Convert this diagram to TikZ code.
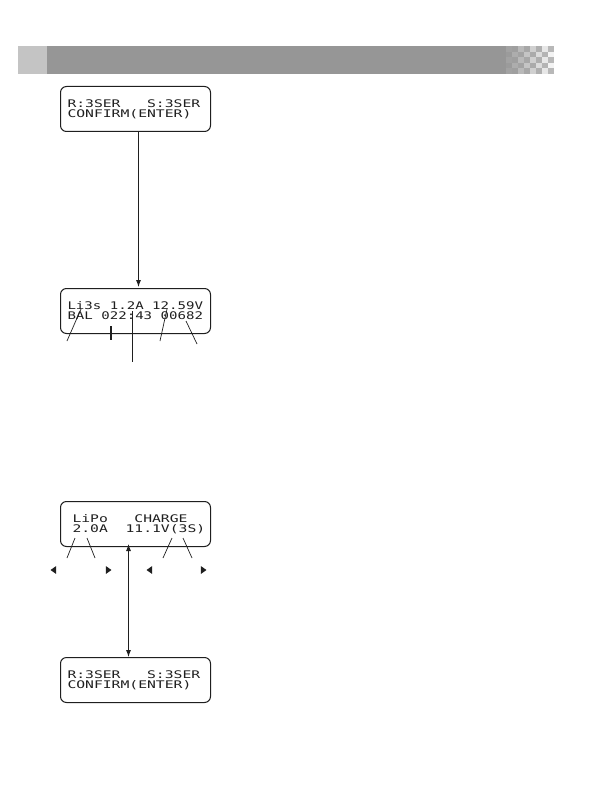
\documentclass[tikz,border=0pt]{standalone}
\usepackage{fontspec}
\usepackage{xcolor}
\usepackage{tikz}
\usetikzlibrary{shapes.geometric, arrows.meta, calc}
\newfontfamily\lcdfont[FakeStretch=1.40]{DejaVu Sans Mono}
\newfontfamily\lcdfontn[FakeStretch=1.34]{DejaVu Sans Mono}
\newcommand\lcdsp{\phantom{0}}
\definecolor{barGray}{gray}{0.59}
\definecolor{tabGray}{gray}{0.77}
\definecolor{lcdInk}{gray}{0.12}
\tikzset{
  lcdbox/.style={draw=lcdInk, line width=1pt, rounded corners=6pt, fill=white, text=lcdInk,
    font=\lcdfont\fontsize{10.5}{10}\selectfont, align=left, text width=136pt,
    inner xsep=7pt, inner ysep=0pt, minimum height=45pt, anchor=north west},
  pointer/.style={draw=lcdInk, line width=0.7pt},
  lcdarrow/.style={draw=lcdInk, line width=0.8pt},
  tri/.style={isosceles triangle, isosceles triangle apex angle=70, fill=lcdInk, draw=none,
    inner sep=0pt, minimum height=5.5pt},
}

\begin{document}
\begin{tikzpicture}[x=1pt,y=-1pt]
\useasboundingbox (0,0) rectangle (595,805);
% Header bar
\fill[tabGray] (18,46) rectangle (47,74);
\fill[barGray] (47,46) rectangle (500,74);
\foreach \i in {0,...,8}{
  \foreach \j in {0,...,4}{
    \pgfmathtruncatemacro{\odd}{mod(\i+\j,2)}
    \pgfmathtruncatemacro{\pct}{100-4*\i-7*\i*\odd}
    \fill[barGray!\pct] (500+6*\i,46+5.6*\j) rectangle ++(6,5.6);
  }
}
% LCD screens
\node[lcdbox] (scrA) at (60,86) {R:3SER\lcdsp\lcdsp\lcdsp S:3SER\\CONFIRM(ENTER)};
\node[lcdbox, font=\lcdfontn\fontsize{10.5}{10}\selectfont] (scrB) at (60,288)
  {Li3s\lcdsp 1.2A\lcdsp 12.59V\\BAL\lcdsp 022:43\lcdsp 00682};
\node[lcdbox] (scrC) at (60,501)
  {\hspace*{5pt}LiPo\lcdsp\lcdsp\lcdsp CHARGE\\\hspace*{5pt}2.0A\lcdsp\lcdsp 11.1V(3S)};
\node[lcdbox] (scrD) at (60,657) {R:3SER\lcdsp\lcdsp\lcdsp S:3SER\\CONFIRM(ENTER)};
% Arrows between screens
\draw[lcdarrow, -{Latex[length=7pt,width=5pt]}] ([xshift=3pt]scrA.south) -- ([xshift=3pt,yshift=1pt]scrB.north);
\draw[lcdarrow, {Latex[length=7pt,width=5pt]}-{Latex[length=7pt,width=5pt]}] ([xshift=-7pt,yshift=3pt]scrC.south) -- ([xshift=-7pt]scrD.north);
% Pointers of the charge screen
\coordinate (balTop) at (81,309);   \coordinate (balEnd) at (67,341);
\coordinate (timeTop) at (111,326); \coordinate (timeEnd) at (111,340);
\coordinate (minTop) at (132,311);  \coordinate (minEnd) at (132,362);
\coordinate (voltTop) at (167,309); \coordinate (voltEnd) at (160,341);
\coordinate (capTop) at (186,321);  \coordinate (capEnd) at (197,344);
\draw[pointer] (balTop) -- (balEnd);
\draw[pointer, line width=1.5pt] (timeTop) -- (timeEnd);
\draw[pointer] (minTop) -- (minEnd);
\draw[pointer] (voltTop) -- (voltEnd);
\draw[pointer] (capTop) -- (capEnd);
% Pointers of the setup screen
\coordinate (curTopA) at (75,538);  \coordinate (curEndA) at (67,558);
\coordinate (curTopB) at (87,538);  \coordinate (curEndB) at (95,558);
\coordinate (celTopA) at (172,538); \coordinate (celEndA) at (163,558);
\coordinate (celTopB) at (183,538); \coordinate (celEndB) at (192,558);
\draw[pointer] (curTopA) -- (curEndA);
\draw[pointer] (curTopB) -- (curEndB);
\draw[pointer] (celTopA) -- (celEndA);
\draw[pointer] (celTopB) -- (celEndB);
\node[tri, shape border rotate=180] (curDown) at (54,570) {};
\node[tri] (curUp) at (108,570) {};
\node[tri, shape border rotate=180] (celDown) at (150,570) {};
\node[tri] (celUp) at (203,570) {};
\end{tikzpicture}
\end{document}
